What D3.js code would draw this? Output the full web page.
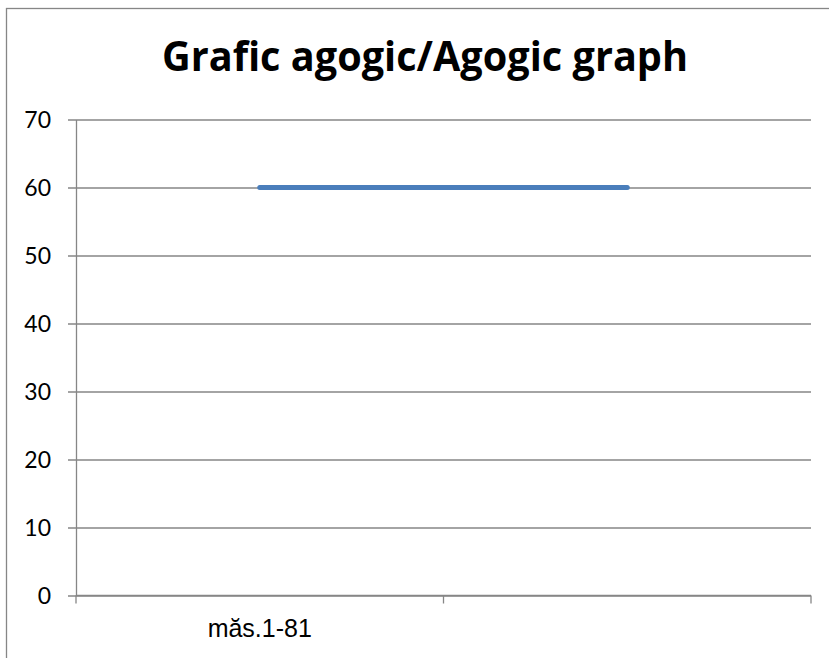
<!DOCTYPE html>
<html>
<head>
<meta charset="utf-8">
<script src="https://d3js.org/d3.v7.js"></script>
<style>
  body { margin: 0; background: #fff; }
  svg { display: block; }
</style>
</head>
<body>
<svg id="chart" width="829" height="658"></svg>
<script>
    // data
    const title = 'Grafic agogic/Agogic graph';
    const categories = ['măs.1-81', ''];
    const values = [60, 60];
    const yTicks = [0, 10, 20, 30, 40, 50, 60, 70];

    const width = 829, height = 658;
    const plot = {left: 76, right: 811, top: 119.5, bottom: 595.5};
    const gray = '#868686';

    const svg = d3.select('#chart');

    // outer chart frame (runs off the right and bottom edge)
    svg.append('rect')
        .attr('x', 6.5).attr('y', 8.5)
        .attr('width', 1000).attr('height', 1000)
        .attr('fill', 'none')
        .attr('stroke', gray)
        .attr('stroke-width', 1.3);

    svg.append('text')
        .attr('x', 425)
        .attr('y', 71)
        .attr('text-anchor', 'middle')
        .attr('font-family', 'Open Sans, Lato, sans-serif')
        .attr('font-weight', 'bold')
        .attr('font-size', 41)
        .attr('textLength', 526)
        .attr('lengthAdjust', 'spacingAndGlyphs')
        .attr('fill', '#000')
        .text(title);

    const x = d3.scaleBand()
        .domain(d3.range(categories.length))
        .range([plot.left, plot.right]);

    const y = d3.scaleLinear()
        .domain([0, 70])
        .range([plot.bottom, plot.top]);

    // y axis with gridlines
    const yAxis = d3.axisLeft(y)
        .tickValues(yTicks)
        .tickSize(-(plot.right - plot.left))
        .tickPadding(25)
        .tickSizeOuter(0);

    const gy = svg.append('g')
        .attr('transform', `translate(${plot.left},0)`)
        .call(yAxis);
    gy.select('.domain').attr('stroke', gray).attr('stroke-width', 1.3);
    gy.selectAll('.tick line')
        .attr('x1', -8)
        .attr('stroke', gray)
        .attr('stroke-width', 1.3);
    gy.selectAll('.tick text')
        .attr('font-family', 'Lato, sans-serif')
        .attr('font-size', 23)
        .attr('fill', '#000')
        .attr('dy', '0.36em');

    // x axis: ticks at category boundaries, labels at centres
    const bounds = d3.range(categories.length + 1).map(i => plot.left + i * x.bandwidth());
    const gx = svg.append('g');
    gx.append('line')
        .attr('x1', plot.left).attr('x2', plot.right)
        .attr('y1', y(0)).attr('y2', y(0))
        .attr('stroke', gray).attr('stroke-width', 1.3);
    gx.selectAll('line.tk')
        .data(bounds)
        .join('line')
        .attr('class', 'tk')
        .attr('x1', d => d).attr('x2', d => d)
        .attr('y1', y(0)).attr('y2', y(0) + 8)
        .attr('stroke', gray).attr('stroke-width', 1.3);
    gx.selectAll('text')
        .data(categories)
        .join('text')
        .attr('x', (d, i) => x(i) + x.bandwidth() / 2)
        .attr('y', 637)
        .attr('text-anchor', 'middle')
        .attr('font-family', 'Liberation Sans, Arial, sans-serif')
        .attr('font-size', 25)
        .attr('fill', '#000')
        .text(d => d);

    // series line
    const line = d3.line()
        .x((d, i) => x(i) + x.bandwidth() / 2)
        .y(d => y(d));

    svg.append('path')
        .datum(values)
        .attr('d', line)
        .attr('fill', 'none')
        .attr('stroke', '#4a7ebb')
        .attr('stroke-width', 5)
        .attr('stroke-linecap', 'round');
</script>
</body>
</html>
